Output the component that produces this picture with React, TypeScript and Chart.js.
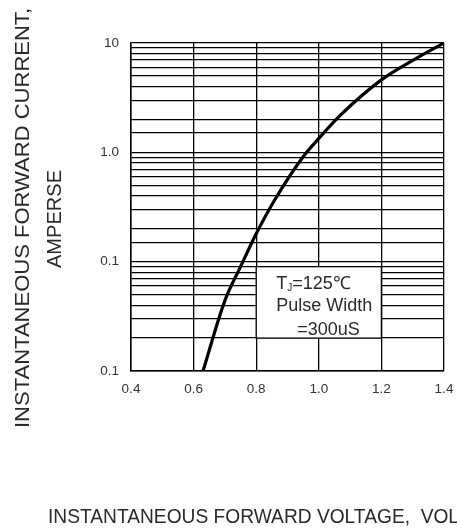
import React, { useEffect, useRef } from 'react';
import Chart from 'chart.js/auto';

const FONT = "'Liberation Sans', Arial, sans-serif";

// forward characteristic
const voltage = [0.63, 0.7, 0.75, 0.8, 0.86, 0.95, 1.0, 1.07, 1.2, 1.31, 1.4];
const current = [0.01, 0.044, 0.09, 0.18, 0.37, 0.91, 1.34, 2.2, 4.6, 7.2, 10];

const xTickValues = [0.4, 0.6, 0.8, 1.0, 1.2, 1.4];
const yTickValues = [0.01, 0.1, 1, 10];
const yTickLabels = ['0.1', '0.1', '1.0', '10'];

const yTitle = ['INSTANTANEOUS FORWARD CURRENT,', 'AMPERSE'];
const xTitle = 'INSTANTANEOUS FORWARD VOLTAGE,  VOLTS';
const noteLines = ['Pulse Width', '=300uS'];

// note box corners in data units: [x0, x1], [y0, y1]
const noteBoxX = [0.8, 1.2];
const noteBoxY = [0.09, 0.02];

const extrasPlugin = {
  id: 'extras',
  beforeDatasetsDraw(chart: any) {
    const { ctx } = chart;
    const xs = chart.scales.x;
    const ys = chart.scales.y;
    const left = xs.getPixelForValue(noteBoxX[0]);
    const right = xs.getPixelForValue(noteBoxX[1]);
    const top = ys.getPixelForValue(noteBoxY[0]);
    const bottom = ys.getPixelForValue(noteBoxY[1]);
    ctx.save();
    ctx.fillStyle = '#fff';
    ctx.fillRect(left, top, right - left, bottom - top);
    ctx.strokeStyle = '#000';
    ctx.lineWidth = 1.3;
    ctx.strokeRect(left, top, right - left, bottom - top);

    ctx.fillStyle = '#2a2a2a';
    ctx.textAlign = 'left';
    ctx.textBaseline = 'alphabetic';
    let x = left + 20;
    ctx.font = `18px ${FONT}`;
    ctx.fillText('T', x, top + 22);
    x += ctx.measureText('T').width;
    ctx.font = `10px ${FONT}`;
    ctx.fillText('J', x, top + 24);
    x += ctx.measureText('J').width;
    ctx.font = `18px ${FONT}`;
    ctx.fillText('=125\u2103', x, top + 22);
    ctx.fillText(noteLines[0], left + 20, top + 44);
    ctx.fillText(noteLines[1], left + 41, top + 68);
    ctx.restore();
  },
  afterDraw(chart: any) {
    const { ctx } = chart;
    ctx.save();
    ctx.fillStyle = '#2a2a2a';
    ctx.textBaseline = 'alphabetic';

    // y title, first line (stretched along the text like the scan)
    ctx.font = `20px ${FONT}`;
    ctx.textAlign = 'center';
    let w = ctx.measureText(yTitle[0]).width;
    ctx.save();
    ctx.translate(29, 218);
    ctx.rotate(-Math.PI / 2);
    ctx.scale(420 / w, 1);
    ctx.fillText(yTitle[0], 0, 0);
    ctx.restore();

    // y title, second line
    w = ctx.measureText(yTitle[1]).width;
    ctx.save();
    ctx.translate(61, 219);
    ctx.rotate(-Math.PI / 2);
    ctx.scale(98 / w, 1);
    ctx.fillText(yTitle[1], 0, 0);
    ctx.restore();

    // x title, condensed and running off the right edge
    ctx.font = `21px ${FONT}`;
    ctx.textAlign = 'left';
    w = ctx.measureText('INSTANTANEOUS FORWARD VOLTAGE,').width;
    ctx.save();
    ctx.translate(48, 523);
    ctx.scale(362 / w, 1);
    ctx.fillText(xTitle, 0, 0);
    ctx.restore();

    ctx.restore();
  },
};

const App: React.FC = () => {
  const chartRef = useRef<HTMLCanvasElement>(null);
  const chartInstanceRef = useRef<Chart | null>(null);

  useEffect(() => {
    if (!chartRef.current) return;
    if (chartInstanceRef.current) {
      chartInstanceRef.current.destroy();
    }
    const ctx = chartRef.current.getContext('2d');
    if (!ctx) return;

    chartInstanceRef.current = new Chart(ctx, {
      type: 'line',
      data: {
        datasets: [{
          label: 'IF',
          data: voltage.map((v, i) => ({ x: v, y: current[i] })),
          borderColor: '#000',
          borderWidth: 3.2,
          pointRadius: 0,
          cubicInterpolationMode: 'monotone',
          fill: false,
        }],
      },
      options: {
        animation: false,
        responsive: true,
        maintainAspectRatio: false,
        layout: { padding: { top: 43, right: 13, left: 0, bottom: 0 } },
        plugins: {
          legend: { display: false },
          tooltip: { enabled: false },
        },
        scales: {
          x: {
            type: 'linear',
            min: 0.4,
            max: 1.4,
            afterFit: (scale: any) => {
              scale.height = 157;
              scale.paddingLeft = 0;
              scale.paddingRight = 0;
            },
            afterBuildTicks: (scale: any) => {
              scale.ticks = xTickValues.map((v) => ({ value: v }));
            },
            grid: { color: '#000', lineWidth: 1.3, drawTicks: false },
            border: { color: '#000', width: 1.5 },
            ticks: {
              padding: 10,
              color: '#333',
              font: { family: FONT, size: 13.5 },
              callback: (value: any) => Number(value).toFixed(1),
            },
          },
          y: {
            type: 'logarithmic',
            min: 0.01,
            max: 10,
            afterFit: (scale: any) => {
              scale.width = 131;
              scale.paddingTop = 0;
              scale.paddingBottom = 0;
            },
            grid: { color: '#000', lineWidth: 1.3, drawTicks: false },
            border: { color: '#000', width: 1.5 },
            ticks: {
              autoSkip: false,
              padding: 12,
              color: '#333',
              font: { family: FONT, size: 13.5 },
              callback: (value: any) => {
                const i = yTickValues.findIndex((v) => Math.abs(v - Number(value)) < v * 1e-6);
                return i >= 0 ? yTickLabels[i] : '';
              },
            },
          },
        },
      },
      plugins: [extrasPlugin],
    });

    return () => {
      if (chartInstanceRef.current) {
        chartInstanceRef.current.destroy();
        chartInstanceRef.current = null;
      }
    };
  }, []);

  return (
    <div style={{ position: 'fixed', left: 0, top: 0, width: 457, height: 528, background: '#fff' }}>
      <canvas ref={chartRef} />
    </div>
  );
};

export default App;
